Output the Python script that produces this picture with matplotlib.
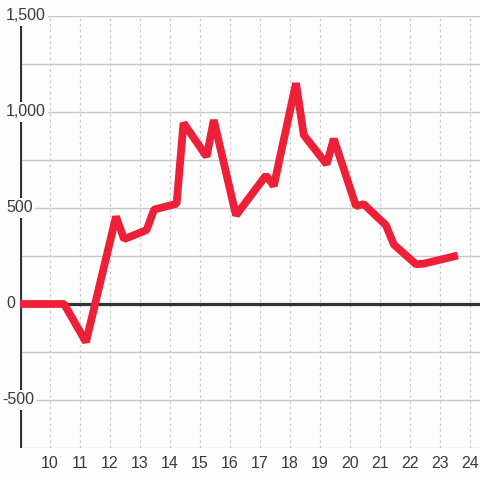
import matplotlib
matplotlib.use("Agg")
import matplotlib.pyplot as plt
import matplotlib.transforms as mtransforms

plt.rcParams['font.family'] = ['Liberation Sans', 'DejaVu Sans']

# data
x_vals = [9.0, 10.47, 11.2, 12.2, 12.47, 13.22, 13.47, 14.22, 14.45, 15.22, 15.46,
          16.2, 17.2, 17.46, 18.2, 18.46, 19.22, 19.46, 20.2, 20.46, 21.2, 21.46,
          22.2, 22.46, 23.47]
y_vals = [0, 0, -198, 455, 338, 385, 492, 522, 943, 768, 958,
          462, 670, 615, 1150, 880, 728, 860, 510, 520, 410, 310,
          207, 210, 248]
x_ticks = [10, 11, 12, 13, 14, 15, 16, 17, 18, 19, 20, 21, 22, 23, 24]
x_tick_labels = [str(v) for v in x_ticks]
y_ticks = [-500, 0, 500, 1000, 1500]
y_tick_labels = ["-500", "0", "500", "1,000", "1,500"]
y_minor = [-750, -250, 250, 750, 1250]

W, H = 480, 480
fig = plt.figure(figsize=(4.8, 4.8), dpi=100)
bg = "#fcfdfc"
fig.patch.set_facecolor(bg)
ax = fig.add_axes([20 / W, 32 / H, 460 / W, 432 / H])
ax.set_facecolor(bg)
ax.set_xlim(9, 9 + 460 / 30)
ax.set_ylim(-750, 1500)

for s in ax.spines.values():
    s.set_visible(False)

# grid lines
for v in y_ticks + y_minor:
    ax.axhline(v, color="#c8c8c8", lw=1.0, zorder=1)
for v in x_ticks:
    ax.axvline(v, color="#c8c8c8", lw=0.9, ls=(0, (2, 2.5)), zorder=1)

# axis + zero line
ax.axvline(9, color="#333333", lw=2.3, zorder=2)
ax.axhline(0, color="#333333", lw=2.3, zorder=2)

ax.plot(x_vals, y_vals, color="#ee2038", lw=5.6, solid_capstyle="projecting",
        solid_joinstyle="bevel", zorder=3)

ax.set_xticks(x_ticks)
ax.set_xticklabels(x_tick_labels, fontsize=11.5, color="#3a3a3a")
ax.tick_params(axis="x", length=0, pad=6)
ax.set_yticks([])

tr = mtransforms.blended_transform_factory(fig.transFigure, ax.transData)
for v, lab in zip(y_ticks, y_tick_labels):
    xoff = 2 if lab.startswith("-") else 6
    ax.text(xoff / W, v, lab, transform=tr,
            ha="left", va="center", fontsize=11.5, color="#3a3a3a", zorder=4,
            bbox=dict(facecolor=bg, edgecolor="none", pad=1.5), clip_on=False)

fig.savefig("out.png", dpi=100, facecolor=bg)
